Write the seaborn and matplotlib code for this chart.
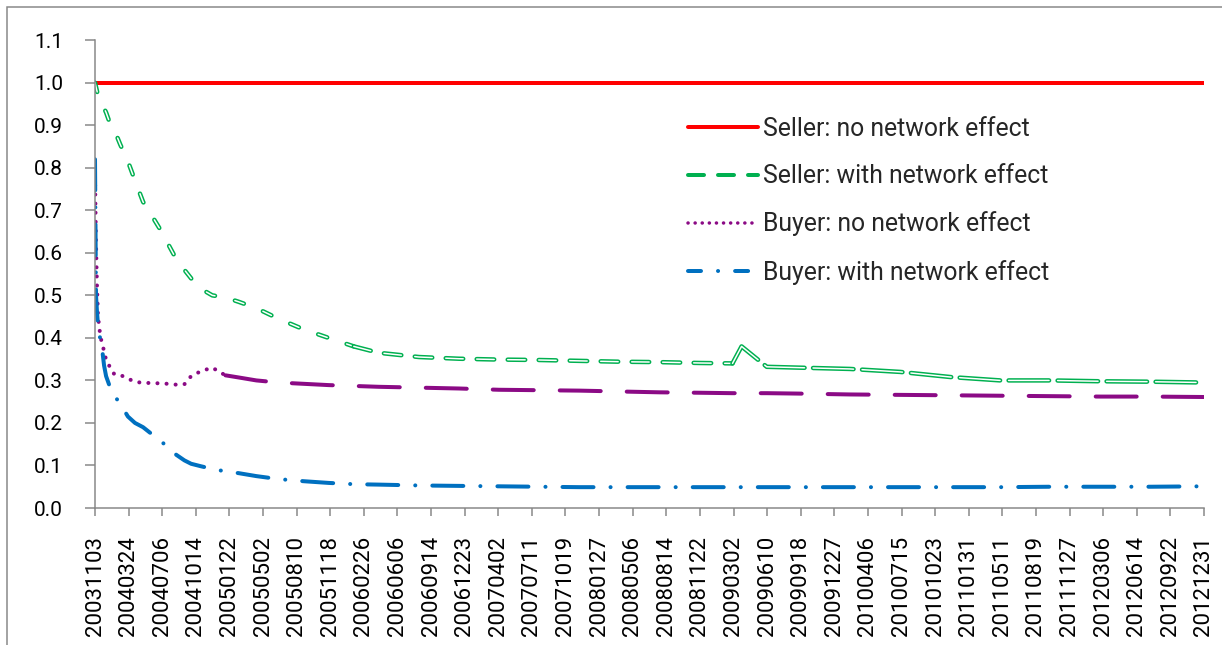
import matplotlib
matplotlib.use("Agg")
import matplotlib.pyplot as plt
import seaborn as sns
import pandas as pd
from matplotlib.lines import Line2D
from matplotlib.patches import Rectangle

# category labels (one every label step on the x axis)
dates = ["20031103", "20040324", "20040706", "20041014", "20050122", "20050502",
         "20050810", "20051118", "20060226", "20060606", "20060914", "20061223",
         "20070402", "20070711", "20071019", "20080127", "20080506", "20080814",
         "20081122", "20090302", "20090610", "20090918", "20091227", "20100406",
         "20100715", "20101023", "20110131", "20110511", "20110819", "20111127",
         "20120306", "20120614", "20120922", "20121231"]

# position along the category axis, in label steps
pos = [0.00, 0.03, 0.06, 0.09, 0.15, 0.21, 0.27, 0.33, 0.42, 0.57,
       0.75, 0.98, 1.19, 1.43, 1.67, 1.94, 2.18, 2.42, 2.66, 2.86,
       3.16, 3.49, 3.88, 4.27, 4.80, 5.46, 6.21, 6.95, 7.70, 8.44,
       9.64, 10.83, 12.02, 13.22, 14.41, 15.60, 16.80, 17.99, 18.97, 19.24,
       19.99, 20.97, 22.46, 23.96, 25.45, 26.94, 28.43, 29.92, 31.41, 33.00]

seller_net = [1.00, 0.99, 0.98, 0.97, 0.96, 0.95, 0.94, 0.93, 0.91, 0.89,
              0.855, 0.815, 0.77, 0.72, 0.69, 0.655, 0.62, 0.585, 0.56, 0.54,
              0.515, 0.50, 0.495, 0.485, 0.47, 0.445, 0.42, 0.40, 0.38, 0.365,
              0.355, 0.351, 0.349, 0.348, 0.346, 0.344, 0.343, 0.341, 0.340, 0.38,
              0.332, 0.330, 0.327, 0.320, 0.308, 0.300, 0.300, 0.298, 0.297, 0.295]

buyer_no = [0.78, 0.62, 0.52, 0.45, 0.41, 0.385, 0.37, 0.348, 0.335, 0.315,
            0.313, 0.304, 0.297, 0.294, 0.294, 0.293, 0.292, 0.290, 0.291, 0.31,
            0.322, 0.33, 0.312, 0.307, 0.30, 0.295, 0.292, 0.289, 0.287, 0.285,
            0.283, 0.281, 0.278, 0.277, 0.276, 0.274, 0.272, 0.271, 0.270, 0.270,
            0.270, 0.269, 0.267, 0.266, 0.265, 0.264, 0.263, 0.262, 0.262, 0.261]

buyer_net = [0.82, 0.50, 0.46, 0.43, 0.40, 0.375, 0.335, 0.31, 0.29, 0.265,
             0.245, 0.215, 0.20, 0.19, 0.175, 0.16, 0.14, 0.125, 0.112, 0.104,
             0.098, 0.092, 0.086, 0.082, 0.075, 0.068, 0.063, 0.059, 0.056, 0.055,
             0.053, 0.052, 0.051, 0.050, 0.049, 0.049, 0.049, 0.049, 0.049, 0.049,
             0.049, 0.049, 0.049, 0.049, 0.049, 0.049, 0.050, 0.050, 0.050, 0.051]

red_pos = [0.0, 33.0]
seller_no = [1.0, 1.0]

y_ticks = [0.0, 0.1, 0.2, 0.3, 0.4, 0.5, 0.6, 0.7, 0.8, 0.9, 1.0, 1.1]
labels = ["Seller: no network effect", "Seller: with network effect",
          "Buyer: no network effect", "Buyer: with network effect"]

df = pd.DataFrame({"pos": pos, "seller_net": seller_net,
                   "buyer_no": buyer_no, "buyer_net": buyer_net})

sns.set_style("white")
plt.rcParams["font.family"] = ["Roboto", "DejaVu Sans"]
plt.rcParams["lines.scale_dashes"] = False

PX = 0.72  # points per pixel at dpi 100


def ls(*px):
    return (0, tuple(v * PX for v in px))


RED, GREEN, PURPLE, BLUE = "#ff0000", "#00b050", "#8b0a85", "#0070c0"

fig = plt.figure(figsize=(12.22, 6.45), dpi=100)
ax = fig.add_axes([95 / 1222, 1 - 508 / 645, (1204 - 95) / 1222, (508 - 40.2) / 645])

# seller, no network effect
sns.lineplot(x=red_pos, y=seller_no, ax=ax, color=RED, lw=4 * PX)

# seller, with network effect: hollow dashes (green outline, white core)
green_parts = [
    (df[df.pos <= 7.70], (9.5, 20.5)),
    (df[(df.pos >= 7.70) & (df.pos <= 18.97)], (17.5, 13.5)),
    (df[df.pos >= 18.97], (40.5, 8.5)),
]
for part, pat in green_parts:
    sns.lineplot(data=part, x="pos", y="seller_net", ax=ax, color=GREEN,
                 lw=4.5 * PX, linestyle=ls(*pat), dash_capstyle="round")
    sns.lineplot(data=part, x="pos", y="seller_net", ax=ax, color="white",
                 lw=1.5 * PX, linestyle=ls(*pat), dash_capstyle="round")

# buyer, no network effect
sns.lineplot(data=df[df.pos <= 3.88], x="pos", y="buyer_no", ax=ax, color=PURPLE,
             lw=4 * PX, linestyle=ls(0.1, 9), dash_capstyle="round")
sns.lineplot(data=df[df.pos >= 3.88], x="pos", y="buyer_no", ax=ax, color=PURPLE,
             lw=4 * PX, linestyle=ls(41, 26), dash_capstyle="round")

# buyer, with network effect
sns.lineplot(data=df, x="pos", y="buyer_net", ax=ax, color=BLUE,
             lw=4 * PX, linestyle=ls(31, 17, 0.1, 17), dash_capstyle="round")

ax.set_xlim(0, 33)
ax.set_ylim(0, 1.1)
ax.set_xticks(range(len(dates)))
ax.set_xticklabels(dates, rotation=90)
ax.set_yticks(y_ticks)
ax.set_yticklabels([f"{v:.1f}" for v in y_ticks])
ax.set_xlabel("")
ax.set_ylabel("")

grey = "#868686"
for side in ["top", "right"]:
    ax.spines[side].set_visible(False)
for side in ["left", "bottom"]:
    ax.spines[side].set_color(grey)
    ax.spines[side].set_linewidth(1.5 * PX)
ax.tick_params(axis="y", left=True, length=10 * PX, width=1.5 * PX, color=grey,
               labelsize=15, pad=22 * PX, labelcolor="black")
ax.tick_params(axis="x", bottom=True, length=8 * PX, width=1.5 * PX, color=grey,
               labelsize=16, pad=20 * PX, labelcolor="black")

handles = [
    Line2D([], [], color=RED, lw=4 * PX),
    Line2D([], [], color=GREEN, lw=4 * PX, linestyle=ls(16, 14), dash_capstyle="round"),
    Line2D([], [], color=PURPLE, lw=3.5 * PX, linestyle=ls(0.1, 7), dash_capstyle="round"),
    Line2D([], [], color=BLUE, lw=4 * PX, linestyle=ls(13, 17, 0.1, 17), dash_capstyle="round"),
]
ax.legend(handles=handles, labels=labels, loc="upper left",
          bbox_to_anchor=(688 / 1222, 1 - 117 / 645), bbox_transform=fig.transFigure,
          frameon=False, fontsize=17.8, handlelength=2.83, handletextpad=0.2,
          labelspacing=0.94, borderpad=0, borderaxespad=0)

# outer chart border
fig.add_artist(Rectangle((7 / 1222, -0.05), 1.2, 638 / 645 + 0.05,
                         transform=fig.transFigure, fill=False,
                         edgecolor="#878787", lw=1.5 * PX, clip_on=False))

fig.savefig("out.png", dpi=100)
